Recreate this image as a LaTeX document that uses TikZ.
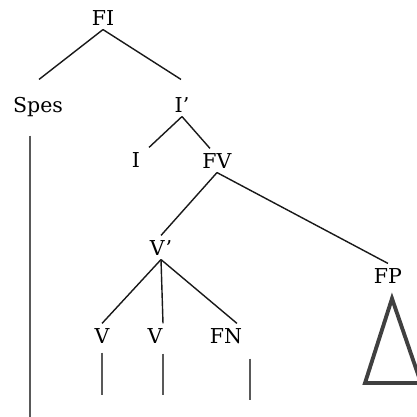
\documentclass[tikz,border=0pt]{standalone}
\usepackage{fontspec}
\setmainfont{DejaVu Serif}
\begin{document}
\begin{tikzpicture}[x=0.03cm, y=-0.03cm]
        \tikzstyle{cat}=[anchor=base, inner sep=0.13cm, text height=0.45cm, text depth=0cm, font=\fontsize{17.5}{20}\selectfont]
        \tikzstyle{branch}=[line width=1.2pt, black!90]
        \tikzstyle{stem}=[line width=0.9pt, black!65]
        \tikzstyle{roof}=[line width=3.3pt, black!75, line join=miter]

        \useasboundingbox (0,0) rectangle (417,417);

        \node[cat](fi) at (103,25){FI};
        \node[cat](spes) at (38,112){Spes};
        \node[cat](ip) at (182,112){I’};
        \node[cat](i) at (136,167){I};
        \node[cat](fv) at (217,168){FV};
        \node[cat](vp) at (161,255){V’};
        \node[cat](fp) at (388,283){FP};
        \node[cat](va) at (102,343){V};
        \node[cat](vb) at (155,343){V};
        \node[cat](fn) at (226,343){FN};

        \coordinate (spesend) at (30,420);
        \coordinate (vaend) at (102,395);
        \coordinate (vbend) at (163,395);
        \coordinate (fnend) at (250,400);
        \coordinate (roofl) at (365,383);
        \coordinate (roofr) at (421,383);

        \draw[branch] (fi.south) -- ([shift={(1,-13)}]spes.north);
        \draw[branch] (fi.south) -- ([shift={(-1,-13)}]ip.north);
        \draw[branch] (ip.south) -- ([shift={(13,0)}]i.north);
        \draw[branch] (ip.south) -- ([shift={(-7,0)}]fv.north);
        \draw[branch] (fv.south) -- (vp.north);
        \draw[branch] (fv.south) -- (fp.north);
        \draw[branch] (vp.south) -- (va.north);
        \draw[branch] (vp.south) -- ([shift={(8,0)}]vb.north);
        \draw[branch] (vp.south) -- ([shift={(11,0)}]fn.north);

        % stems below the leaves
        \draw[stem] (spes.south) ++(-8,19) -- (spesend);
        \draw[stem] (va.south) ++(0,5) -- (vaend);
        \draw[stem] (vb.south) ++(8,6) -- (vbend);
        \draw[stem] (fn.south) ++(24,11) -- (fnend);

        \draw[roof] (fp.south) ++(4,11) -- (roofl) -- (roofr) -- cycle;

\end{tikzpicture}
\end{document}
